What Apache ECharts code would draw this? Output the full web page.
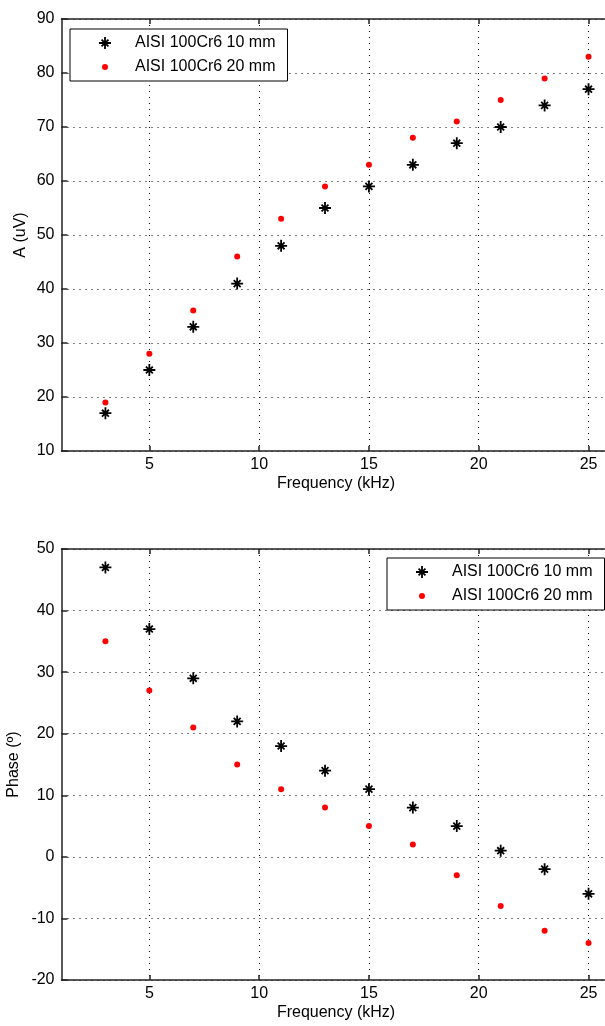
<!DOCTYPE html>
<html><head><meta charset="utf-8">
<script src="https://cdn.jsdelivr.net/npm/echarts@6/dist/echarts.min.js"></script>
<style>html,body{margin:0;padding:0;background:#fff}#c{width:605px;height:1026px}</style>
</head><body><div id="c"></div>
<script>
// ---- data ----
const freq = [3, 5, 7, 9, 11, 13, 15, 17, 19, 21, 23, 25];
const amp10 = [17, 25, 33, 41, 48, 55, 59, 63, 67, 70, 74, 77];
const amp20 = [19, 28, 36, 46, 53, 59, 63, 68, 71, 75, 79, 83];
const phase10 = [47, 37, 29, 22, 18, 14, 11, 8, 5, 1, -2, -6];
const phase20 = [35, 27, 21, 15, 11, 8, 5, 2, -3, -8, -12, -14];
const xTicks = [5, 10, 15, 20, 25];
const seriesNames = ['AISI 100Cr6 10 mm', 'AISI 100Cr6 20 mm'];
const xName = 'Frequency (kHz)';
const yNameTop = 'A (uV)';
const yNameBottom = 'Phase (º)';

// ---- styles ----
const FONT = '"Liberation Sans", Arial, sans-serif';
const AXC = '#222';
const STAR = 'path://M8.5 0h3v20h-3z M0 8.5h20v3h-20z M3.2 5.3L5.3 3.2L16.8 14.7L14.7 16.8Z M14.7 3.2L16.8 5.3L5.3 16.8L3.2 14.7Z M7 7h6v6h-6z';
const DOT = 'path://M0 0M12 12M6 3A3 3 0 1 1 6 9A3 3 0 1 1 6 3Z';
const txt = {fontFamily: FONT, fontSize: 16, color: '#000'};

function pairs(xs, ys) { return xs.map((x, i) => [x, ys[i]]); }

function xAxes(gridIndex) {
  return [
    {
      type: 'value', gridIndex, min: 1, max: 26, position: 'bottom',
      name: xName, nameLocation: 'middle', nameGap: 25, nameTextStyle: txt,
      nameMoveOverlap: false,
      axisLine: {onZero: false, lineStyle: {color: AXC, width: 1.5}},
      axisTick: {inside: true, length: 5, customValues: xTicks, lineStyle: {color: AXC, width: 1.5}},
      axisLabel: Object.assign({customValues: xTicks, margin: 6}, txt),
      splitLine: {show: true, lineStyle: {color: '#000', width: 1, type: [1, 5]}}
    },
    {
      type: 'value', gridIndex, min: 1, max: 26, position: 'top',
      axisLine: {onZero: false, lineStyle: {color: AXC, width: 1.5}},
      axisTick: {inside: true, length: 5, customValues: xTicks, lineStyle: {color: AXC, width: 1.5}},
      axisLabel: {show: false},
      splitLine: {show: false}
    }
  ];
}
function yAxis(gridIndex, min, max, name, gap) {
  return {
    type: 'value', gridIndex, min, max, interval: 10,
    name, nameLocation: 'middle', nameGap: gap, nameTextStyle: txt,
    nameMoveOverlap: false,
    axisLine: {show: true, onZero: false, lineStyle: {color: AXC, width: 1.5}},
    axisTick: {show: true, inside: true, length: 6, lineStyle: {color: AXC, width: 1.5}},
    axisLabel: Object.assign({margin: 7}, txt),
    splitLine: {show: true, lineStyle: {color: '#000', width: 1, type: [1, 5]}}
  };
}
function legend(left, top) {
  return {
    orient: 'vertical', left, top,
    data: [{name: seriesNames[0], icon: STAR}, {name: seriesNames[1], icon: DOT}],
    itemWidth: 12, itemHeight: 12, itemGap: 8,
    padding: [6, 12, 6, 29],
    borderColor: '#000', borderWidth: 1, backgroundColor: '#fff',
    selectedMode: false,
    textStyle: Object.assign({padding: [0, 0, 0, 19]}, txt)
  };
}
function scat(name, xi, yi, data, black) {
  return {
    type: 'scatter', name, xAxisIndex: xi, yAxisIndex: yi, data,
    symbol: black ? STAR : 'circle', symbolSize: black ? 12 : 6,
    itemStyle: {color: black ? '#000' : '#ff0000', opacity: 1},
    silent: true, z: black ? 3 : 4
  };
}

const chart = echarts.init(document.getElementById('c'), null, {renderer: 'canvas'});
chart.setOption({
  animation: false,
  backgroundColor: '#fff',
  grid: [
    {left: 61.5, top: 19, width: 549, height: 432, outerBoundsMode: 'none', containLabel: false},
    {left: 61.5, top: 549, width: 549, height: 431, outerBoundsMode: 'none', containLabel: false}
  ],
  xAxis: [...xAxes(0), ...xAxes(1)],
  yAxis: [yAxis(0, 10, 90, yNameTop, 33), yAxis(1, -20, 50, yNameBottom, 40)],
  legend: [legend(70, 29), legend(387, 558)],
  series: [
    scat(seriesNames[0], 0, 0, pairs(freq, amp10), true),
    scat(seriesNames[1], 0, 0, pairs(freq, amp20), false),
    scat(seriesNames[0], 2, 1, pairs(freq, phase10), true),
    scat(seriesNames[1], 2, 1, pairs(freq, phase20), false)
  ]
});
</script></body></html>
